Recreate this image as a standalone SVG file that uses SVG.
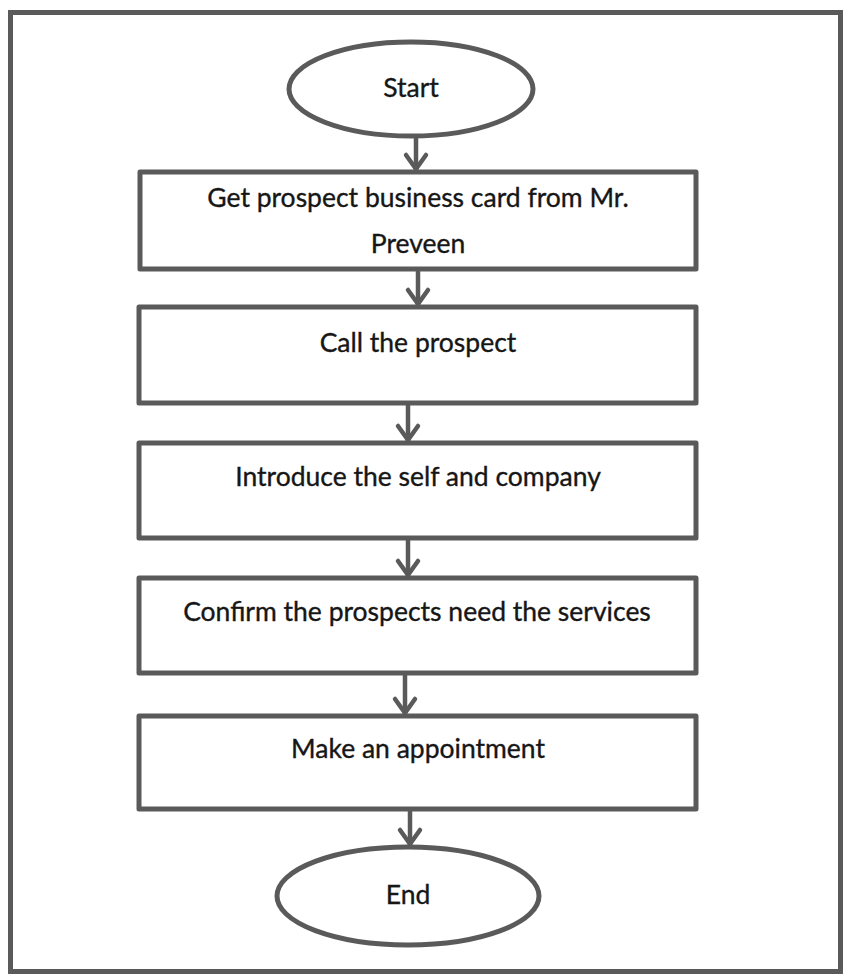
<svg xmlns="http://www.w3.org/2000/svg" width="844" height="976" viewBox="0 0 844 976">
  <style>
    .frame { fill: #ffffff; stroke: #5a5a5a; stroke-width: 5; }
    .shape { fill: #ffffff; stroke: #5a5a5a; stroke-width: 5; stroke-linejoin: round; }
    .label { font-family: Lato, "Open Sans", "Liberation Sans", sans-serif; font-size: 26.5px; fill: #161616; text-anchor: middle; stroke: #161616; stroke-width: 0.35; }
    .conn { stroke: #5a5a5a; stroke-width: 4.5; fill: none; marker-end: url(#arrow); }
  </style>
  <defs>
    <marker id="arrow" markerUnits="userSpaceOnUse" markerWidth="30" markerHeight="30" viewBox="-20 -15 30 30" refX="0" refY="0" orient="auto">
      <path d="M -15,-10 L -1,0 L -15,10" fill="none" stroke="#5a5a5a" stroke-width="4.5" stroke-linecap="round" stroke-linejoin="round"/>
    </marker>
  </defs>

  <!-- outer border -->
  <rect class="frame" x="10.5" y="12.5" width="830" height="959"/>

  <!-- connectors -->
  <g id="connectors">
    <line class="conn" x1="416" y1="137" x2="416" y2="170"/>
    <line class="conn" x1="418" y1="271" x2="418" y2="305"/>
    <line class="conn" x1="408" y1="405" x2="408" y2="441"/>
    <line class="conn" x1="408" y1="540" x2="408" y2="576"/>
    <line class="conn" x1="405" y1="675" x2="405" y2="714"/>
    <line class="conn" x1="410" y1="810" x2="410" y2="845"/>
  </g>

  <g id="start">
    <ellipse class="shape" cx="411" cy="89" rx="122" ry="47"/>
    <text class="label" x="411" y="97">Start</text>
  </g>

  <g id="get-card">
    <rect class="shape" x="140" y="172" width="556" height="97"/>
    <text class="label" x="418" y="207">Get prospect business card from Mr.</text>
    <text class="label" x="418" y="253">Preveen</text>
  </g>

  <g id="call">
    <rect class="shape" x="139" y="307" width="557" height="96"/>
    <text class="label" x="418" y="352">Call the prospect</text>
  </g>

  <g id="introduce">
    <rect class="shape" x="139" y="443" width="557" height="95"/>
    <text class="label" x="418" y="486">Introduce the self and company</text>
  </g>

  <g id="confirm">
    <rect class="shape" x="139" y="578" width="557" height="95"/>
    <text class="label" x="417" y="621">Confirm the prospects need the services</text>
  </g>

  <g id="appointment">
    <rect class="shape" x="139" y="716" width="557" height="93"/>
    <text class="label" x="418" y="758">Make an appointment</text>
  </g>

  <g id="end">
    <ellipse class="shape" cx="408" cy="896" rx="131" ry="49"/>
    <text class="label" x="408" y="904">End</text>
  </g>
</svg>
